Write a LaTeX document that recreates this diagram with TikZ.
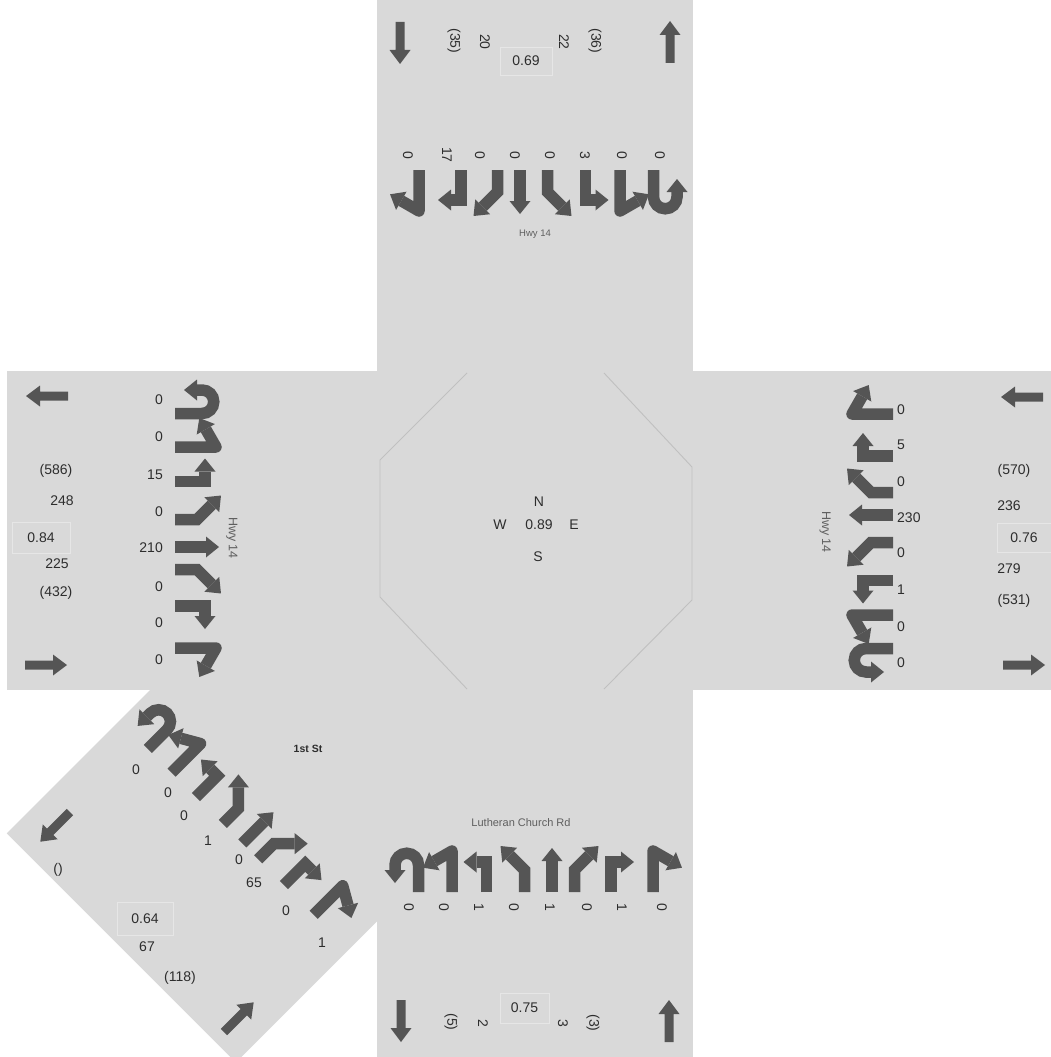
\documentclass[tikz,border=0pt]{standalone}
\usepackage{fontspec}
\setmainfont{Liberation Sans}
\definecolor{bg}{RGB}{217,217,217}
\definecolor{gc}{RGB}{85,85,85}
\definecolor{tc}{RGB}{45,45,45}
\definecolor{oc}{RGB}{192,192,192}
\definecolor{boxc}{RGB}{230,230,230}
\definecolor{sc}{RGB}{95,95,95}
\tikzset{
  mv/.style={draw=gc, line width=11.5pt, line join=miter},
  pics/hd/.style={code={\fill[gc] (0,-10.5) -- (13,0) -- (0,10.5) -- cycle;}},
  pics/gT/.style={code={\draw[mv] (0,0)--(0,31); \pic[rotate=90] at (0,31) {hd};}},
  pics/gL/.style={code={\draw[mv] (9,0)--(9,30)--(-1,30); \pic[rotate=180] at (-1,30) {hd};}},
  pics/gR/.style={code={\draw[mv] (-9,0)--(-9,30)--(1,30); \pic at (1,30) {hd};}},
  pics/gBL/.style={code={\draw[mv] (9,0)--(9,22)--(-5.8,36.8); \pic[rotate=135] at (-5.8,36.8) {hd};}},
  pics/gBR/.style={code={\draw[mv] (-9,0)--(-9,22)--(5.8,36.8); \pic[rotate=45] at (5.8,36.8) {hd};}},
  pics/gHL/.style={code={\draw[mv,line join=round] (12,0)--(12,41)--(-5.7,30.8); \pic[rotate=210] at (-5.7,30.8) {hd};}},
  pics/gHR/.style={code={\draw[mv,line join=round] (-12,0)--(-12,41)--(5.7,30.8); \pic[rotate=-30] at (5.7,30.8) {hd};}},
  pics/gU/.style={code={\draw[mv] (14,0)--(14,27) arc[start angle=0,end angle=180,radius=11.75] -- (-9.5,22); \pic[rotate=-90] at (-9.5,22) {hd};}},
  pics/big/.style={code={\fill[gc] (-4.5,0) -- (-4.5,28) -- (-10.5,28) -- (0,42) -- (10.5,28) -- (4.5,28) -- (4.5,0) -- cycle;}},
  num/.style={text=tc, font=\fontsize{14}{16}\selectfont, inner sep=0pt},
  rnum/.style={num, rotate=-90},
  street/.style={text=sc, inner sep=0pt},
  ratio/.style={num, draw=boxc, line width=0.8pt},
}
\newcommand\mvset[3]{%
  \begin{scope}[shift={(#1,#2)},rotate=#3,transform shape]
    \pic at (-131.5,0) {gU};
    \pic at (-96,0) {gHL};
    \pic at (-58.5,0) {gL};
    \pic at (-20.5,0) {gBL};
    \pic at (16,0) {gT};
    \pic at (47.5,0) {gBR};
    \pic at (84,0) {gR};
    \pic at (129,0) {gHR};
  \end{scope}}
\begin{document}
\begin{tikzpicture}[x=1pt,y=1pt]
\useasboundingbox (0,0) rectangle (1051,-1057);
\clip (0,0) rectangle (1051,-1057);
\fill[white] (0,0) rectangle (1051,-1057);
% road surfaces
\fill[bg] (377,0) rectangle (693,-372);
\fill[bg] (7,-371) rectangle (380,-690);
\fill[bg] (693,-371) rectangle (1051,-690);
\fill[bg] (377,-371) rectangle (693,-1057);
\fill[bg] (422.6,-417.6) -- (651.7,-646.7) -- (235.9,-1062.5) -- (6.8,-833.4) -- cycle;
% octagon
\draw[oc, line width=0.9pt] (467,-373) -- (380,-460) -- (380,-597) -- (467,-689);
\draw[oc, line width=0.9pt] (604,-373) -- (692,-467) -- (692,-600) -- (604,-689);
% movement glyphs
\mvset{536}{-892}{0}
\mvset{536}{-170}{180}
\mvset{175}{-531}{-90}
\mvset{893}{-531}{90}
\mvset{231}{-832}{-45}
% big lane arrows
\pic[rotate=180] at (400,-22) {big};
\pic at (670,-63) {big};
\pic[rotate=180] at (401,-1000) {big};
\pic at (669,-1042) {big};
\pic[rotate=90] at (68,-396) {big};
\pic[rotate=-90] at (25,-665) {big};
\pic[rotate=90] at (1043,-397) {big};
\pic[rotate=-90] at (1003,-665) {big};
\pic[rotate=135] at (70,-812) {big};
\pic[rotate=-45] at (224,-1032) {big};
% north texts
\node[rnum] (n35) at (454,-41) {(35)};
\node[rnum] (n20) at (485,-42) {20};
\node[rnum] (n22) at (564,-42) {22};
\node[rnum] (n36) at (595,-41) {(36)};
\node[ratio, minimum width=52pt, minimum height=28pt] (nr) at (526,-61) {0.69};
\foreach \x/\v [count=\i] in {408/0,447/17,480/0,515/0,550/0,585/3,622/0,660/0}
  \node[rnum] (nl\i) at (\x,-155) {\v};
\node[street, font=\fontsize{9.5}{11}\selectfont] (nst) at (535,-234) {Hwy 14};
% south texts
\foreach \x/\v [count=\i] in {409/0,444/0,479/1,514/0,550/1,587/0,622/1,662/0}
  \node[rnum] (sl\i) at (\x,-907) {\v};
\node[street, font=\fontsize{11}{13}\selectfont] (sst) at (521,-823) {Lutheran Church Rd};
\node[rnum] (s5) at (451,-1022) {(5)};
\node[rnum] (s2) at (483,-1023) {2};
\node[ratio, minimum width=49pt, minimum height=30pt] (sr) at (524.5,-1008) {0.75};
\node[rnum] (s3) at (563,-1023) {3};
\node[rnum] (s3b) at (593,-1023) {(3)};
% west texts
\foreach \y/\v [count=\i] in {400/0,437/0,475/15,512/0,548/210,587/0,623/0,660/0}
  \node[num, anchor=east] (wl\i) at (163,-\y) {\v};
\node[num] (w586) at (56,-471) {(586)};
\node[num] (w248) at (62,-501) {248};
\node[ratio, minimum width=58pt, minimum height=31pt] (wr) at (41,-537.5) {0.84};
\node[num] (w225) at (57,-564) {225};
\node[num] (w432) at (56,-593) {(432)};
\node[street, rotate=-90, font=\fontsize{12.5}{14}\selectfont] (wst) at (232,-538) {Hwy 14};
% east texts
\foreach \y/\v [count=\i] in {410/0,445/5,482/0,518/230,553/0,590/1,627/0,663/0}
  \node[num, anchor=west] (el\i) at (897,-\y) {\v};
\node[num] (e570) at (1014,-471) {(570)};
\node[num] (e236) at (1009,-506) {236};
\node[ratio, minimum width=54pt, minimum height=29pt] (er) at (1024,-537.5) {0.76};
\node[num] (e279) at (1009,-569) {279};
\node[num] (e531) at (1014,-601) {(531)};
\node[street, rotate=-90, font=\fontsize{12.5}{14}\selectfont] (est) at (825,-532) {Hwy 14};
% south-west texts
\foreach \x/\y/\v [count=\i] in {136/770/0,168/793/0,184/816/0,208/841/1,239/860/0,254/883/65,286/911/0,322/943/1}
  \node[num] (swl\i) at (\x,-\y) {\v};
\node[num] (swe) at (58,-870) {()};
\node[ratio, minimum width=56pt, minimum height=33pt] (swr) at (145,-918.5) {0.64};
\node[num] (sw67) at (147,-947) {67};
\node[num] (sw118) at (180,-978) {(118)};
\node[street, text=tc, font=\fontsize{10.5}{12}\selectfont\bfseries] (swst) at (308,-749) {1st St};
% centre
\node[num] (cN) at (539,-502) {N};
\node[num] (cW) at (500,-525) {W};
\node[num] (cv) at (539,-525) {0.89};
\node[num] (cE) at (574,-525) {E};
\node[num] (cS) at (538,-557) {S};
\end{tikzpicture}
\end{document}
